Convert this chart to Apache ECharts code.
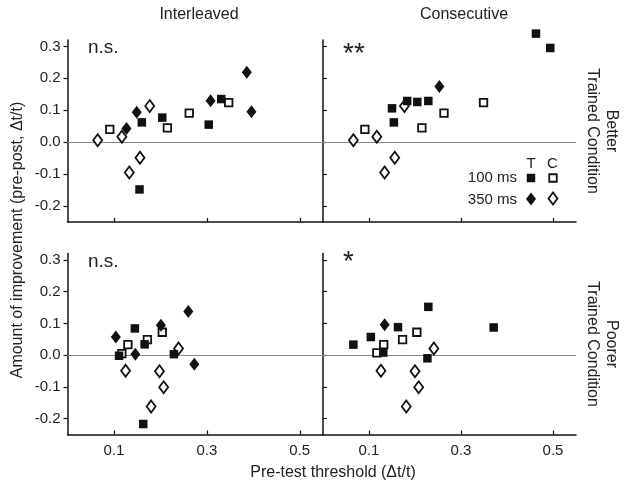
<!DOCTYPE html>
<html><head><meta charset="utf-8">
<script src="https://cdn.jsdelivr.net/npm/echarts@6/dist/echarts.min.js"></script>
<style>html,body{margin:0;padding:0;background:#fff}#c{width:628px;height:490px}</style>
</head><body><div id="c"></div>
<script>
// ---- data: [pre-test threshold, improvement] ----
const intBetterT100 = [[0.160,0.062],[0.204,0.077],[0.155,-0.148],[0.304,0.055],[0.331,0.135]];
const intBetterC100 = [[0.091,0.040],[0.215,0.045],[0.262,0.091],[0.347,0.124]];
const intBetterT350 = [[0.149,0.094],[0.127,0.043],[0.308,0.130],[0.386,0.219],[0.396,0.095]];
const intBetterC350 = [[0.065,0.006],[0.117,0.017],[0.177,0.113],[0.156,-0.049],[0.133,-0.095]];

const conBetterT100 = [[0.463,0.340],[0.494,0.295],[0.150,0.106],[0.154,0.062],[0.183,0.129],[0.205,0.126],[0.229,0.129]];
const conBetterC100 = [[0.091,0.040],[0.215,0.045],[0.263,0.091],[0.349,0.124]];
const conBetterT350 = [[0.253,0.174]];
const conBetterC350 = [[0.066,0.006],[0.117,0.017],[0.177,0.113],[0.156,-0.049],[0.134,-0.095]];

const intPoorT100 = [[0.145,0.084],[0.111,-0.002],[0.166,0.034],[0.229,0.003],[0.163,-0.217]];
const intPoorC100 = [[0.117,0.005],[0.130,0.033],[0.172,0.049],[0.204,0.072]];
const intPoorT350 = [[0.104,0.057],[0.146,0.003],[0.201,0.094],[0.260,0.137],[0.273,-0.029]];
const intPoorC350 = [[0.125,-0.049],[0.198,-0.051],[0.239,0.021],[0.207,-0.101],[0.180,-0.162]];

const conPoorT100 = [[0.066,0.033],[0.104,0.057],[0.131,0.008],[0.163,0.088],[0.229,0.152],[0.227,-0.010],[0.371,0.087]];
const conPoorC100 = [[0.117,0.007],[0.132,0.033],[0.173,0.049],[0.204,0.072]];
const conPoorT350 = [[0.134,0.096]];
const conPoorC350 = [[0.126,-0.049],[0.200,-0.051],[0.241,0.021],[0.208,-0.101],[0.181,-0.162]];

const xTicks = [0.1, 0.3, 0.5];
const yTicks = [-0.2, -0.1, 0.0, 0.1, 0.2, 0.3];
const colTitles = ['Interleaved', 'Consecutive'];
const rowTitles = ['Better\nTrained Condition', 'Poorer\nTrained Condition'];
const sigLabels = ['n.s.', '**', 'n.s.', '*'];
const xTitle = 'Pre-test threshold (\u0394t/t)';
const yTitle = 'Amount of improvement (pre-post, \u0394t/t)';

const panels = [
  [intBetterT100, intBetterC100, intBetterT350, intBetterC350],
  [conBetterT100, conBetterC100, conBetterT350, conBetterC350],
  [intPoorT100, intPoorC100, intPoorT350, intPoorC350],
  [conPoorT100, conPoorC100, conPoorT350, conPoorC350]
];

// ---- layout ----
const FONT = '"Liberation Sans", Arial, Helvetica, sans-serif';
const TXT = '#222';
const INK = '#111';
const grids = [
  {left: 67.5, top: 40, width: 255.5, height: 182},
  {left: 323, top: 40, width: 253, height: 182},
  {left: 67.5, top: 253.5, width: 255.5, height: 181},
  {left: 323, top: 253.5, width: 253, height: 181}
];

const xAxes = grids.map((g, i) => ({
  type: 'value', gridIndex: i, min: 0, max: 0.55,
  axisLine: {show: true, onZero: false, lineStyle: {color: INK, width: 1.5}},
  axisTick: {show: true, inside: true, length: 4, customValues: xTicks, lineStyle: {color: INK, width: 1.2}},
  axisLabel: {show: i >= 2, customValues: xTicks, formatter: v => v.toFixed(1), fontSize: 15, color: TXT, fontFamily: FONT, margin: 9},
  splitLine: {show: false}
}));
const yAxes = grids.map((g, i) => ({
  type: 'value', gridIndex: i, min: -0.25, max: 0.32,
  axisLine: {show: true, onZero: false, lineStyle: {color: INK, width: 1.5}},
  axisTick: {show: true, inside: i % 2 === 1, length: 4, customValues: yTicks, lineStyle: {color: INK, width: 1.2}},
  axisLabel: {show: i % 2 === 0, customValues: yTicks, formatter: v => v.toFixed(1), fontSize: 15, color: TXT, fontFamily: FONT, margin: 7},
  splitLine: {show: false}
}));

const styles = [
  {symbol: 'rect', symbolSize: 8.5, itemStyle: {color: INK, borderColor: INK, borderWidth: 0, opacity: 1}},
  {symbol: 'rect', symbolSize: 7.5, itemStyle: {color: '#fff', borderColor: INK, borderWidth: 1.8, opacity: 1}},
  {symbol: 'diamond', symbolSize: [10, 13], itemStyle: {color: INK, borderColor: INK, borderWidth: 0, opacity: 1}},
  {symbol: 'diamond', symbolSize: [9, 12], itemStyle: {color: '#fff', borderColor: INK, borderWidth: 1.8, opacity: 1}}
];

const series = [];
panels.forEach((sets, gi) => {
  sets.forEach((d, k) => {
    const s = Object.assign({
      type: 'scatter', xAxisIndex: gi, yAxisIndex: gi, data: d, clip: false, silent: true, z: 3 + (k % 2 === 0 ? 1 : 0)
    }, styles[k]);
    if (k === 0) {
      s.markLine = {silent: true, symbol: 'none', label: {show: false},
        lineStyle: {color: '#8a8a8a', width: 1, type: 'solid', opacity: 1}, data: [{yAxis: 0}], z: 1};
    }
    series.push(s);
  });
});

const graphic = [];
// column titles
graphic.push({type: 'text', x: 199, y: 15, style: {text: colTitles[0], font: '16px ' + FONT, fill: TXT, align: 'center', verticalAlign: 'middle'}});
graphic.push({type: 'text', x: 464, y: 15, style: {text: colTitles[1], font: '16px ' + FONT, fill: TXT, align: 'center', verticalAlign: 'middle'}});
// row titles (rotated)
graphic.push({type: 'text', x: 602, y: 131, rotation: -Math.PI / 2, style: {text: rowTitles[0], font: '16px ' + FONT, fill: TXT, align: 'center', verticalAlign: 'middle', lineHeight: 19}});
graphic.push({type: 'text', x: 602, y: 344, rotation: -Math.PI / 2, style: {text: rowTitles[1], font: '16px ' + FONT, fill: TXT, align: 'center', verticalAlign: 'middle', lineHeight: 19}});
// axis titles
graphic.push({type: 'text', x: 18, y: 240, rotation: Math.PI / 2, style: {text: yTitle, font: '16px ' + FONT, fill: TXT, align: 'center', verticalAlign: 'middle'}});
graphic.push({type: 'text', x: 333, y: 473, style: {text: xTitle, font: '16px ' + FONT, fill: TXT, align: 'center', verticalAlign: 'middle'}});
// significance labels
graphic.push({type: 'text', x: 88, y: 48, style: {text: sigLabels[0], font: '19px ' + FONT, fill: TXT, align: 'left', verticalAlign: 'middle'}});
graphic.push({type: 'text', x: 343, y: 54, style: {text: sigLabels[1], font: '28px ' + FONT, fill: TXT, align: 'left', verticalAlign: 'middle'}});
graphic.push({type: 'text', x: 88, y: 262, style: {text: sigLabels[2], font: '19px ' + FONT, fill: TXT, align: 'left', verticalAlign: 'middle'}});
graphic.push({type: 'text', x: 343, y: 262, style: {text: sigLabels[3], font: '28px ' + FONT, fill: TXT, align: 'left', verticalAlign: 'middle'}});
// legend
graphic.push({type: 'text', x: 531, y: 164, style: {text: 'T', font: '15px ' + FONT, fill: TXT, align: 'center', verticalAlign: 'middle'}});
graphic.push({type: 'text', x: 552.5, y: 164, style: {text: 'C', font: '15px ' + FONT, fill: TXT, align: 'center', verticalAlign: 'middle'}});
graphic.push({type: 'text', x: 517, y: 178, style: {text: '100 ms', font: '15px ' + FONT, fill: TXT, align: 'right', verticalAlign: 'middle'}});
graphic.push({type: 'text', x: 517, y: 200, style: {text: '350 ms', font: '15px ' + FONT, fill: TXT, align: 'right', verticalAlign: 'middle'}});
graphic.push({type: 'rect', shape: {x: 526.75, y: 173.75, width: 8.5, height: 8.5}, style: {fill: INK}});
graphic.push({type: 'rect', shape: {x: 549.25, y: 174.25, width: 7.5, height: 7.5}, style: {fill: '#fff', stroke: INK, lineWidth: 1.8}});
graphic.push({type: 'polygon', shape: {points: [[531, 192.5], [536, 199], [531, 205.5], [526, 199]]}, style: {fill: INK}});
graphic.push({type: 'polygon', shape: {points: [[553, 192.5], [557.5, 198.5], [553, 204.5], [548.5, 198.5]]}, style: {fill: '#fff', stroke: INK, lineWidth: 1.8}});

const chart = echarts.init(document.getElementById('c'), null, {renderer: 'canvas'});
chart.setOption({
  animation: false,
  backgroundColor: '#fff',
  textStyle: {fontFamily: FONT},
  grid: grids.map(g => Object.assign({containLabel: false}, g)),
  xAxis: xAxes,
  yAxis: yAxes,
  series: series,
  graphic: graphic
});
</script></body></html>
